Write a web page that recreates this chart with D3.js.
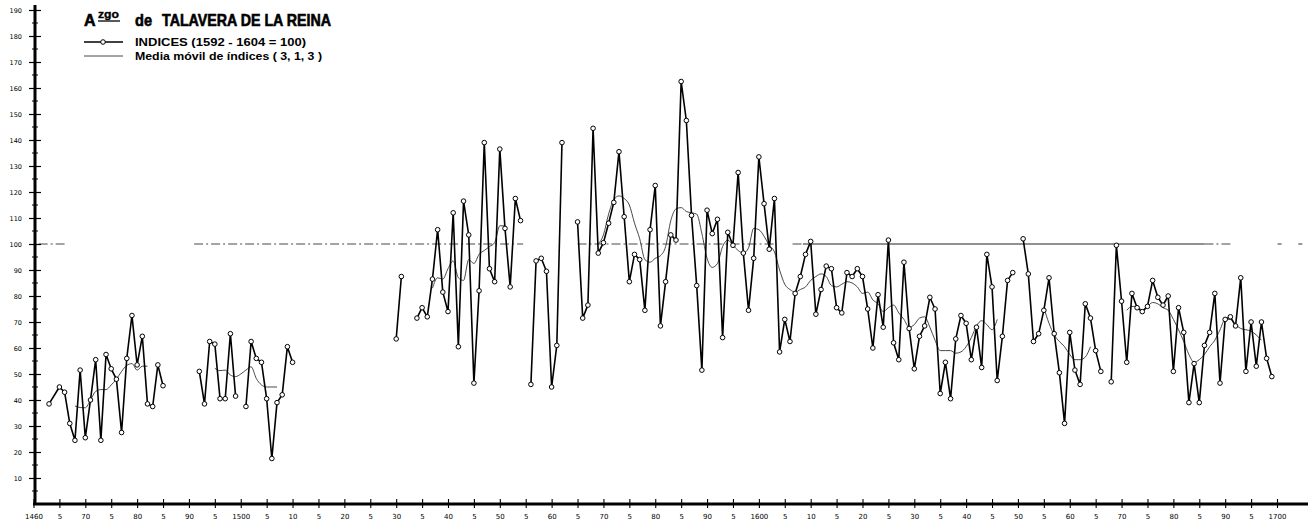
<!DOCTYPE html>
<html><head><meta charset="utf-8">
<script src="https://cdn.jsdelivr.net/npm/d3@7/dist/d3.min.js"></script>
<style>body{margin:0;background:#fff}svg{display:block}</style>
</head><body>
<svg id="c" width="1311" height="528"></svg>
<script>
// ---- data ----
const indexYears = [
1463,1465,1466,1467,1468,1469,1470,1471,1472,1473,1474,1475,1476,1477,1478,1479,1480,1481,1482,1483,1484,1485,1486,
1492,1493,1494,1495,1496,1497,1498,1499,1500,
1501,1502,1503,1504,1505,1506,1507,1508,1509,1510,1511,
1530,1531,1532,
1534,1535,1536,1537,1538,1539,1540,1541,1542,1543,1544,1545,1546,1547,1548,1549,1550,1551,1552,1553,1554,1555,
1556,1557,1558,1559,1560,1561,1562,1563,
1565,1566,1567,1568,1569,1570,1571,1572,1573,1574,1575,1576,1577,1578,1579,1580,1581,1582,1583,1584,
1585,1586,1587,1588,1589,1590,1591,1592,1593,1594,1595,1596,1597,1598,1599,1600,1601,1602,1603,1604,
1605,1606,1607,1608,1609,1610,1611,1612,1613,1614,1615,1616,1617,1618,1619,1620,1621,1622,1623,1624,
1625,1626,1627,1628,1629,1630,1631,1632,1633,1634,1635,1636,1637,1638,1639,1640,1641,1642,1643,1644,
1645,1646,1647,1648,1649,1650,
1651,1652,1653,1654,1655,1656,1657,1658,1659,1660,1661,1662,1663,1664,1665,1666,1667,
1668,1669,1670,1671,1672,1673,1674,1675,1676,1677,1678,1679,1680,1681,1682,1683,1684,1685,1686,1687,
1688,1689,1690,1691,1692,1693,1694,1695,1696,1697,1698,1699];
const indexValues = [
38.5,45,43,31,24.5,51.5,25.5,40,55.5,24.5,57.5,52,48,27.5,56,72.5,53.5,64.5,38.5,37.5,53.5,45.5,null,
51,38.5,62.5,61.5,40.5,40.5,65.5,41.5,null,
37.5,62.5,56,54.5,40.5,17.5,39,42,60.5,54.5,null,
63.5,87.5,null,
71.5,75.5,72,86.5,105.5,81.5,74,112,60.5,116.5,103.5,46.5,82,139,90.5,85.5,136.5,106,83.5,117.5,109,null,
46,93.5,94.5,89.5,45,61,139,null,
108.5,71.5,76.5,144.5,96.5,100.5,108,116,135.5,110.5,85.5,96,94,74.5,105.5,122.5,68.5,85.5,103.5,101.5,
162.5,147.5,111,84,51.5,113,104,109.5,64,104.5,99.5,127.5,96.5,74.5,94.5,133.5,115.5,98,117.5,58.5,
71,62.5,81,87.5,96,101,73,82.5,91.5,90.5,75.5,73.5,89,87.5,90.5,87.5,75,60,80.5,68,
101.5,62,55.5,93,67.5,52,64.5,68.5,79.5,75,42.5,54.5,40.5,63.5,72.5,69.5,55.5,68,52.5,96,
83.5,47.5,64.5,86,89,null,
102,88.5,62.5,65.5,74.5,87,65.5,50.5,31,66,51.5,46,77,71.5,59,51,null,
47,99.5,78,54.5,81,75.5,74,76,86,79.5,76.5,80,51,75.5,66,39,54,39,61,66,
81,46.5,71,72,68.5,87,51,70,53,70,56,49];

const mavgYears = [
1468,1469,1470,1471,1472,1473,1474,1475,1476,1477,1478,1479,1480,1481,1482,1483,
1495,1496,1497,1498,1499,1500,1501,1502,1503,1504,1505,1506,1507,1508,
1537,1538,1539,1540,1541,1542,1543,1544,1545,1546,1547,1548,1549,1550,1551,1552,
1569,1570,1571,1572,1573,1574,1575,1576,1577,1578,1579,1580,1581,1582,1583,1584,1585,1586,1587,1588,
1589,1590,1591,1592,1593,1594,1595,1596,1597,1598,1599,1600,1601,1602,1603,1604,1605,1606,1607,1608,
1609,1610,1611,1612,1613,1614,1615,1616,1617,1618,1619,1620,1621,1622,1623,1624,1625,1626,1627,1628,
1629,1630,1631,1632,1633,1634,1635,1636,1637,1638,1639,1640,1641,1642,1643,1644,1645,1646,1647,
1655,1656,1657,1658,1659,1660,1661,1662,1663,1664,1665,
1671,1672,1673,1674,1675,1676,1677,1678,1679,1680,1681,1682,1683,1684,1685,1686,1687,1688,1689,1690,
1691,1692,1693,1694,1695,1696,1697];
const mavgValues = [
37.7,37.1,37,40,43.3,44,44,45.8,48,51,53.3,54,51.5,53,53,null,
52.2,51.3,51.5,49.6,49,50,51.5,52.8,48.3,45.8,45,45,45,null,
83,87,86.5,90.5,93.5,87,86,94,92.5,96,97.5,99,100.5,107,107,null,
100,103.5,111.5,117,118.5,117.5,115,108,102,94,93,94.5,95.5,99,109,113.5,114,112.5,112,111.5,
104,94.5,91,92.5,99,101.5,99.5,97.5,96.5,98.5,106,105.5,103,99.5,97,90,84.5,82.5,81.5,82.5,
83.5,86,87.5,88.5,87.5,84,83.5,84.5,85.5,85,83.5,81,81.5,78.5,77,74,75.5,76.5,73.5,71,
68,69,71.5,72,68,63,59,59,59,58,58.5,60.5,64,68.5,70.5,69,67,71,null,
75.5,69.5,65,62.5,60.5,57.5,55.5,55.5,56.5,60.5,null,
74.5,76,76,74.5,76,77.5,77,75.5,74.5,71,67,62.5,57.5,54.5,55.5,57.5,60.5,63,67,71,
71,69,67.5,67,66.5,65,63];

const baseValue = 100;
const refDashSpans = [[1461,1466],[1491,1554.5],[1565,1603.5],[1606.5,1608.5],[1686,1691.5]];
const refSolidSpans = [[1608.5,1686]];
const refDotYears = [1700.5,1704.5];

const xTickYears = d3.range(1460, 1701, 5);
const xTickLabels = ["1460","5","70","5","80","5","90","5","1500","5","10","5","20","5","30","5","40","5","50","5",
 "60","5","70","5","80","5","90","5","1600","5","10","5","20","5","30","5","40","5","50","5","60","5","70","5","80","5","90","5","1700"];
const yTickValues = d3.range(10, 191, 10);
const yTickLabels = yTickValues.map(String);

const titleParts = ["A", "zgo", "de", "TALAVERA DE LA REINA"];
const legendLabels = ["INDICES (1592 - 1604 = 100)", "Media móvil de índices ( 3, 1, 3 )"];

// ---- drawing ----
const svg = d3.select("#c");
const x = d3.scaleLinear().domain([1460, 1700]).range([33.5, 1277]);
const y = d3.scaleLinear().domain([0, 190]).range([504, 10]);

// reference line at 100
const gRef = svg.append("g");
refDashSpans.forEach(s => gRef.append("line")
  .attr("x1", x(s[0])).attr("x2", x(s[1])).attr("y1", y(baseValue)).attr("y2", y(baseValue))
  .attr("stroke", "#333").attr("stroke-width", 0.9).attr("stroke-dasharray", "9,3,2,3"));
refSolidSpans.forEach(s => gRef.append("line")
  .attr("x1", x(s[0])).attr("x2", x(s[1])).attr("y1", y(baseValue)).attr("y2", y(baseValue))
  .attr("stroke", "#222").attr("stroke-width", 1));
refDotYears.forEach(d => gRef.append("line")
  .attr("x1", x(d) - 2).attr("x2", x(d) + 2).attr("y1", y(baseValue)).attr("y2", y(baseValue))
  .attr("stroke", "#333").attr("stroke-width", 1));

// y axis
const yAxis = d3.axisLeft(y).tickValues(yTickValues).tickFormat((d, i) => yTickLabels[i])
  .tickSize(0).tickPadding(13);
const gy = svg.append("g").attr("transform", "translate(35,0)").call(yAxis);
gy.select(".domain").remove();
gy.selectAll("text").attr("font-family", "DejaVu Sans").attr("font-size", 6.5).attr("fill", "#000");
gy.selectAll(".tick").append("line").attr("x1", -6).attr("x2", 6).attr("stroke", "#000").attr("stroke-width", 1.2);
svg.append("g").selectAll("line").data(d3.range(5, 190, 10)).join("line")
  .attr("x1", 32).attr("x2", 38).attr("y1", d => y(d)).attr("y2", d => y(d))
  .attr("stroke", "#000").attr("stroke-width", 1);
svg.append("line").attr("x1", 35).attr("x2", 35).attr("y1", 5).attr("y2", 505)
  .attr("stroke", "#000").attr("stroke-width", 3);

// x axis
const xAxis = d3.axisBottom(x).tickValues(xTickYears).tickFormat((d, i) => xTickLabels[i])
  .tickSize(0).tickPadding(10);
const gx = svg.append("g").attr("transform", "translate(0,504)").call(xAxis);
gx.select(".domain").remove();
gx.selectAll("text").attr("font-family", "DejaVu Sans").attr("font-size", 7).attr("fill", "#000");
gx.selectAll(".tick").append("line").attr("y1", -5).attr("y2", 4).attr("stroke", "#000").attr("stroke-width", 1.1);
svg.append("line").attr("x1", 33).attr("x2", 1308).attr("y1", 504).attr("y2", 504)
  .attr("stroke", "#000").attr("stroke-width", 3);

// moving average
const mavgData = mavgYears.map((d, i) => ({ year: d, v: mavgValues[i] }));
const lineGen = d3.line().defined(d => d.v !== null).x(d => x(d.year)).y(d => y(d.v)).curve(d3.curveMonotoneX);
svg.append("path").datum(mavgData).attr("d", lineGen)
  .attr("fill", "none").attr("stroke", "#333").attr("stroke-width", 0.9);

// index series
const idxData = indexYears.map((d, i) => ({ year: d, v: indexValues[i] }));
const lineIdx = d3.line().defined(d => d.v !== null).x(d => x(d.year)).y(d => y(d.v));
svg.append("path").datum(idxData).attr("d", lineIdx)
  .attr("fill", "none").attr("stroke", "#000").attr("stroke-width", 1.6).attr("stroke-linejoin", "round");
svg.append("g").selectAll("circle").data(idxData.filter(d => d.v !== null)).join("circle")
  .attr("cx", d => x(d.year)).attr("cy", d => y(d.v)).attr("r", 2.3)
  .attr("fill", "#fff").attr("stroke", "#000").attr("stroke-width", 1);

// title
const gt = svg.append("g").attr("font-family", "Liberation Sans").attr("font-weight", "bold")
  .attr("fill", "#000").attr("stroke", "#000").attr("stroke-width", 0.6);
gt.append("text").attr("x", 84).attr("y", 26).attr("font-size", 16).text(titleParts[0]);
gt.append("text").attr("x", 98).attr("y", 18).attr("font-size", 10).attr("textLength", 21)
  .attr("lengthAdjust", "spacingAndGlyphs").attr("stroke-width", 0.3).text(titleParts[1]);
gt.append("line").attr("x1", 98).attr("x2", 120).attr("y1", 21).attr("y2", 21).attr("stroke-width", 1.3);
gt.append("text").attr("x", 135).attr("y", 26).attr("font-size", 16).attr("textLength", 17)
  .attr("lengthAdjust", "spacingAndGlyphs").text(titleParts[2]);
gt.append("text").attr("x", 162).attr("y", 26).attr("font-size", 16).attr("textLength", 169)
  .attr("lengthAdjust", "spacingAndGlyphs").text(titleParts[3]);

// legend
const gl = svg.append("g");
gl.append("line").attr("x1", 84).attr("x2", 123).attr("y1", 42).attr("y2", 42).attr("stroke", "#000").attr("stroke-width", 1.5);
gl.append("circle").attr("cx", 103).attr("cy", 42).attr("r", 2.3).attr("fill", "#fff").attr("stroke", "#000");
gl.append("line").attr("x1", 84).attr("x2", 123).attr("y1", 56).attr("y2", 56).attr("stroke", "#333").attr("stroke-width", 0.9);
gl.append("text").attr("x", 135).attr("y", 46).attr("font-family", "Liberation Sans").attr("font-weight", "bold")
  .attr("font-size", 10.5).attr("textLength", 171).attr("lengthAdjust", "spacingAndGlyphs").text(legendLabels[0]);
gl.append("text").attr("x", 135).attr("y", 60).attr("font-family", "Liberation Sans").attr("font-weight", "bold")
  .attr("font-size", 10.5).attr("textLength", 187).attr("lengthAdjust", "spacingAndGlyphs").text(legendLabels[1]);
</script>
</body></html>
